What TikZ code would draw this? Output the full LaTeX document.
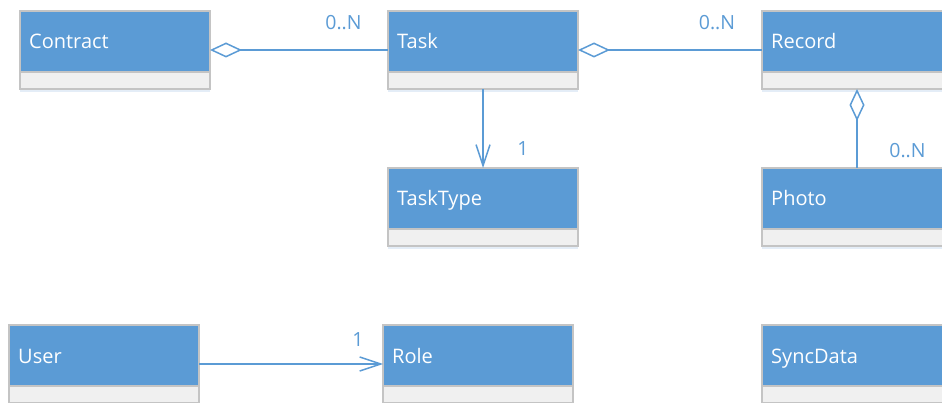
\documentclass[tikz,border=0pt]{standalone}
\usepackage{fontspec}
\setmainfont{Open Sans}
\usetikzlibrary{arrows.meta,shadows}
\definecolor{hdr}{HTML}{5B9BD5}
\definecolor{bord}{HTML}{C4C4C4}
\definecolor{comp}{HTML}{F0F0F0}
\definecolor{shad}{HTML}{D9E6F3}
\tikzset{
  umlcls/.style={anchor=north west, minimum width=190pt, minimum height=78pt,
    inner sep=0pt, outer sep=0pt, fill=comp, draw=bord, line width=1.2pt,
    drop shadow={shadow xshift=0pt, shadow yshift=-3pt, fill=shad, opacity=0.7}},
  hdrfill/.style={fill=hdr},
  boxline/.style={draw=bord, line width=1.2pt},
  clsname/.style={anchor=base west, inner sep=0pt, text=white, font=\fontsize{20}{24}\selectfont},
  mult/.style={anchor=base, inner sep=0pt, text=hdr, font=\fontsize{19.5}{24}\selectfont},
  conn/.style={draw=hdr, line width=1.5pt},
  agg/.style={conn, {Diamond[open, length=32pt, width=15pt, line width=1.5pt]}-},
  assoc/.style={conn, -{Straight Barb[length=21pt, width=14pt, line width=1.5pt]}}
}
\newcommand\umlbox[4]{%
  \node[umlcls] (#1) at (#2,#3) {};
  \fill[hdrfill] (#1.north west) rectangle ([yshift=17pt]#1.south east);
  \draw[boxline] (#1.north west) rectangle (#1.south east);
  \draw[boxline] ([yshift=17pt]#1.south west) -- ([yshift=17pt]#1.south east);
  \node[clsname] (#1-name) at ([xshift=9pt,yshift=-38pt]#1.north west) {#4};
}
\begin{document}
\begin{tikzpicture}[x=1pt,y=-1pt]
  \useasboundingbox (0,0) rectangle (942,403);
  \clip (0,0) rectangle (942,403);
  \umlbox{contract}{20}{11}{Contract}
  \umlbox{task}{388}{11}{Task}
  \umlbox{record}{762}{11}{Record}
  \umlbox{tasktype}{388}{168}{TaskType}
  \umlbox{photo}{762}{168}{Photo}
  \umlbox{user}{9}{325}{User}
  \umlbox{role}{383}{325}{Role}
  \umlbox{syncdata}{762}{325}{SyncData}

  \draw[agg] (contract.east) -- (task.west);
  \draw[agg] (task.east) -- (record.west);
  \draw[agg] (record.south) -- (photo.north);
  \draw[assoc] (task.south) -- (tasktype.north);
  \draw[assoc] (user.east) -- (role.west);

  \node[mult] (m1) at (343.5,30) {0..N};
  \node[mult] (m2) at (717,30) {0..N};
  \node[mult] (m3) at (907.5,158) {0..N};
  \node[mult] (m4) at (523,156) {1};
  \node[mult] (m5) at (358,346) {1};
\end{tikzpicture}
\end{document}
